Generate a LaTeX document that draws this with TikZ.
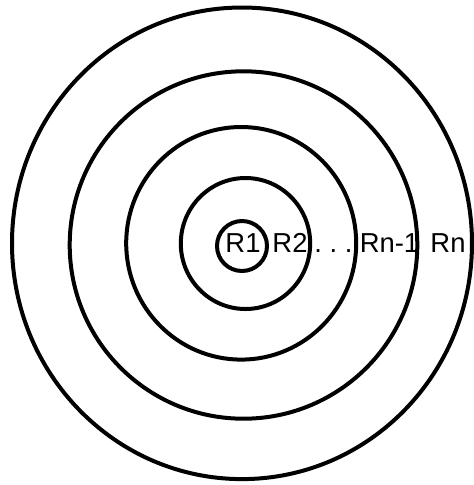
\documentclass[tikz,border=0pt]{standalone}
\usepackage{fontspec}
\setmainfont{Liberation Sans}
\tikzset{
  anillo/.style={draw=black, line width=0.08cm},
  etiqueta/.style={inner sep=0pt, anchor=base, font=\fontsize{15.6}{18}\selectfont}
}
\begin{document}
\begin{tikzpicture}[x=0.02cm, y=-0.02cm]
    \useasboundingbox (0,0) rectangle (474,485);
    % Anillos concentricos
    \draw[anillo] (242,246) circle[radius=25];
    \draw[anillo] (245.5,243.5) ellipse[x radius=64.7, y radius=65.5];
    \draw[anillo] (241.2,243.3) ellipse[x radius=115, y radius=116.3];
    \draw[anillo] (243.5,245) ellipse[x radius=173.8, y radius=173.7];
    \draw[anillo] (242,243.3) ellipse[x radius=230, y radius=235.8];

    % Radios
    \node[etiqueta] (r1) at (243,252.7) {R1};
    \node[etiqueta] (r2) at (290,252.7) {R2};
    \node[etiqueta] (puntos) at (333.5,252.7) {.\ .\ .};
    \node[etiqueta] (rn1) at (389.5,252.7) {Rn-1};
    \node[etiqueta] (rn) at (448,252.7) {Rn};
\end{tikzpicture}
\end{document}
